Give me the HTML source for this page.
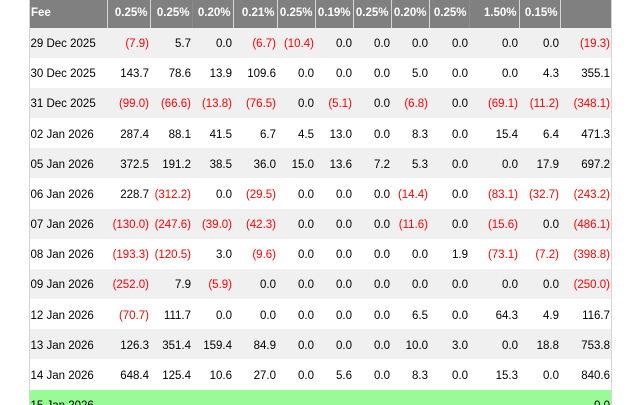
<!DOCTYPE html>
<html><head><meta charset="utf-8"><style>
html,body{margin:0;padding:0;background:#fff;width:643px;height:405px;overflow:hidden;}
#wrap{position:relative;width:643px;height:405px;overflow:hidden;font-family:"Liberation Sans",Arial,sans-serif;font-size:11.5px;color:#000;background:#fff;}
.vl{position:absolute;top:0;width:1px;height:405px;background:#d4d4d4;}
.r{position:absolute;left:30px;width:581px;height:30.17px;}
.g{background:#f0f0f0;}
.w{background:#fff;}
.p{background:#98fb98;}
.r span{position:absolute;top:1.5px;height:30.17px;line-height:30.17px;text-align:right;padding-right:1px;box-sizing:border-box;white-space:nowrap;}
.r span.c0{text-align:left;padding-left:0.5px;padding-right:0;}
.h{position:absolute;left:30px;top:0;width:581px;height:27.5px;background:#808080;}
.h span{position:absolute;top:0;height:27.5px;line-height:26px;text-align:right;padding-right:2.5px;box-sizing:border-box;color:#fff;font-weight:bold;white-space:nowrap;border-left:1px solid #d6d6d6;}
.h span.c0{text-align:left;padding-left:1px;border-left:none;}
.h span.f{border-left-color:#8a8a8a;}
.c0{left:0;width:77px;}
.c1{left:77px;width:43px;}
.c2{left:120px;width:42px;}
.c3{left:162px;width:41px;}
.c4{left:203px;width:44px;}
.c5{left:247px;width:38px;}
.c6{left:285px;width:38px;}
.c7{left:323px;width:38px;}
.c8{left:361px;width:38px;}
.c9{left:399px;width:40px;}
.c10{left:439px;width:50px;}
.c11{left:489px;width:41px;}
.c12{left:530px;width:51px;}
.n{color:#f00;}
</style></head><body>
<div id="wrap">
<div class="vl" style="left:29px"></div>
<div class="vl" style="left:611px"></div>

<div class="h">
<span class="c0">Fee</span><span class="c1">0.25%</span><span class="c2">0.25%</span><span class="c3 f">0.20%</span><span class="c4">0.21%</span><span class="c5">0.25%</span><span class="c6">0.19%</span><span class="c7">0.25%</span><span class="c8">0.20%</span><span class="c9">0.25%</span><span class="c10 f">1.50%</span><span class="c11">0.15%</span><span class="c12"></span>
</div>

<div class="r g" style="top:27.5px"><span class="c0">29 Dec 2025</span><span class="c1 n">(7.9)</span><span class="c2">5.7</span><span class="c3">0.0</span><span class="c4 n">(6.7)</span><span class="c5 n">(10.4)</span><span class="c6">0.0</span><span class="c7">0.0</span><span class="c8">0.0</span><span class="c9">0.0</span><span class="c10">0.0</span><span class="c11">0.0</span><span class="c12 n">(19.3)</span></div>

<div class="r w" style="top:57.67px"><span class="c0">30 Dec 2025</span><span class="c1">143.7</span><span class="c2">78.6</span><span class="c3">13.9</span><span class="c4">109.6</span><span class="c5">0.0</span><span class="c6">0.0</span><span class="c7">0.0</span><span class="c8">5.0</span><span class="c9">0.0</span><span class="c10">0.0</span><span class="c11">4.3</span><span class="c12">355.1</span></div>

<div class="r g" style="top:87.84px"><span class="c0">31 Dec 2025</span><span class="c1 n">(99.0)</span><span class="c2 n">(66.6)</span><span class="c3 n">(13.8)</span><span class="c4 n">(76.5)</span><span class="c5">0.0</span><span class="c6 n">(5.1)</span><span class="c7">0.0</span><span class="c8 n">(6.8)</span><span class="c9">0.0</span><span class="c10 n">(69.1)</span><span class="c11 n">(11.2)</span><span class="c12 n">(348.1)</span></div>

<div class="r w" style="top:118.01px"><span class="c0">02 Jan 2026</span><span class="c1">287.4</span><span class="c2">88.1</span><span class="c3">41.5</span><span class="c4">6.7</span><span class="c5">4.5</span><span class="c6">13.0</span><span class="c7">0.0</span><span class="c8">8.3</span><span class="c9">0.0</span><span class="c10">15.4</span><span class="c11">6.4</span><span class="c12">471.3</span></div>

<div class="r g" style="top:148.18px"><span class="c0">05 Jan 2026</span><span class="c1">372.5</span><span class="c2">191.2</span><span class="c3">38.5</span><span class="c4">36.0</span><span class="c5">15.0</span><span class="c6">13.6</span><span class="c7">7.2</span><span class="c8">5.3</span><span class="c9">0.0</span><span class="c10">0.0</span><span class="c11">17.9</span><span class="c12">697.2</span></div>

<div class="r w" style="top:178.35px"><span class="c0">06 Jan 2026</span><span class="c1">228.7</span><span class="c2 n">(312.2)</span><span class="c3">0.0</span><span class="c4 n">(29.5)</span><span class="c5">0.0</span><span class="c6">0.0</span><span class="c7">0.0</span><span class="c8 n">(14.4)</span><span class="c9">0.0</span><span class="c10 n">(83.1)</span><span class="c11 n">(32.7)</span><span class="c12 n">(243.2)</span></div>

<div class="r g" style="top:208.52px"><span class="c0">07 Jan 2026</span><span class="c1 n">(130.0)</span><span class="c2 n">(247.6)</span><span class="c3 n">(39.0)</span><span class="c4 n">(42.3)</span><span class="c5">0.0</span><span class="c6">0.0</span><span class="c7">0.0</span><span class="c8 n">(11.6)</span><span class="c9">0.0</span><span class="c10 n">(15.6)</span><span class="c11">0.0</span><span class="c12 n">(486.1)</span></div>

<div class="r w" style="top:238.69px"><span class="c0">08 Jan 2026</span><span class="c1 n">(193.3)</span><span class="c2 n">(120.5)</span><span class="c3">3.0</span><span class="c4 n">(9.6)</span><span class="c5">0.0</span><span class="c6">0.0</span><span class="c7">0.0</span><span class="c8">0.0</span><span class="c9">1.9</span><span class="c10 n">(73.1)</span><span class="c11 n">(7.2)</span><span class="c12 n">(398.8)</span></div>

<div class="r g" style="top:268.86px"><span class="c0">09 Jan 2026</span><span class="c1 n">(252.0)</span><span class="c2">7.9</span><span class="c3 n">(5.9)</span><span class="c4">0.0</span><span class="c5">0.0</span><span class="c6">0.0</span><span class="c7">0.0</span><span class="c8">0.0</span><span class="c9">0.0</span><span class="c10">0.0</span><span class="c11">0.0</span><span class="c12 n">(250.0)</span></div>

<div class="r w" style="top:299.03px"><span class="c0">12 Jan 2026</span><span class="c1 n">(70.7)</span><span class="c2">111.7</span><span class="c3">0.0</span><span class="c4">0.0</span><span class="c5">0.0</span><span class="c6">0.0</span><span class="c7">0.0</span><span class="c8">6.5</span><span class="c9">0.0</span><span class="c10">64.3</span><span class="c11">4.9</span><span class="c12">116.7</span></div>

<div class="r g" style="top:329.2px"><span class="c0">13 Jan 2026</span><span class="c1">126.3</span><span class="c2">351.4</span><span class="c3">159.4</span><span class="c4">84.9</span><span class="c5">0.0</span><span class="c6">0.0</span><span class="c7">0.0</span><span class="c8">10.0</span><span class="c9">3.0</span><span class="c10">0.0</span><span class="c11">18.8</span><span class="c12">753.8</span></div>

<div class="r w" style="top:359.37px"><span class="c0">14 Jan 2026</span><span class="c1">648.4</span><span class="c2">125.4</span><span class="c3">10.6</span><span class="c4">27.0</span><span class="c5">0.0</span><span class="c6">5.6</span><span class="c7">0.0</span><span class="c8">8.3</span><span class="c9">0.0</span><span class="c10">15.3</span><span class="c11">0.0</span><span class="c12">840.6</span></div>

<div class="r p" style="top:389.54px"><span class="c0">15 Jan 2026</span><span class="c12">0.0</span></div>
</div>
</body></html>
